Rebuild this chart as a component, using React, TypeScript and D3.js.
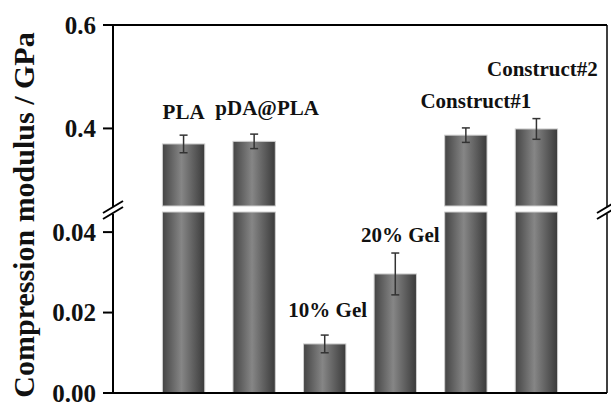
import React from "react";
import * as d3 from "d3";

const categories = ["PLA", "pDA@PLA", "10% Gel", "20% Gel", "Construct#1", "Construct#2"];
const values = [0.37, 0.375, 0.0122, 0.0296, 0.387, 0.399];
const errors = [0.017, 0.014, 0.0022, 0.0052, 0.014, 0.02];
const upperTicks = [0.4, 0.6];
const lowerTicks = [0.0, 0.02, 0.04];
const upperTickLabels = ["0.4", "0.6"];
const lowerTickLabels = ["0.00", "0.02", "0.04"];
// label placement offsets (px) relative to bar centre / error-bar top
const labelDx = [0, 13, 3, 5, 10, 6];
const labelDy = [16, 19, 18, 11, 20, 43];

const W = 611;
const H = 403;
const left = 113;
const right = 607;
const top = 25;
const bottom = 393;
const upBreak = 206;
const lowBreak = 212;

export default function App() {
  const x = d3.scaleLinear().domain([0, 7]).range([left, right]);
  const yU = d3.scaleLinear().domain([0.25, 0.6]).range([upBreak, top]);
  const yL = d3.scaleLinear().domain([0, 0.045]).range([bottom, lowBreak]);
  const bw = x(0.6) - x(0);
  const font = "'Liberation Serif', 'Times New Roman', serif";

  const yOf = (v: number) => (v > 0.045 ? yU(v) : yL(v));

  return (
    <svg width={W} height={H} style={{ position: "fixed", left: 0, top: 0, background: "#fff" }}>
      <defs>
        <linearGradient id="barGrad" x1="0" x2="1" y1="0" y2="0">
          <stop offset="0%" stopColor="#444" />
          <stop offset="45%" stopColor="#868686" />
          <stop offset="100%" stopColor="#3a3a3a" />
        </linearGradient>
      </defs>

      {categories.map((c, i) => {
        const cx = x(i + 1);
        const v = values[i];
        const big = v > 0.045;
        const e = errors[i];
        const eTop = yOf(v + e);
        const eBot = yOf(v - e);
        return (
          <g key={c}>
            {big ? (
              <>
                <rect x={cx - bw / 2} y={yL(0.045)} width={bw} height={yL(0) - yL(0.045)} fill="url(#barGrad)" stroke="#cfcfcf" strokeWidth={1} />
                <rect x={cx - bw / 2} y={yU(v)} width={bw} height={yU(0.25) - yU(v)} fill="url(#barGrad)" stroke="#cfcfcf" strokeWidth={1} />
              </>
            ) : (
              <rect x={cx - bw / 2} y={yL(v)} width={bw} height={yL(0) - yL(v)} fill="url(#barGrad)" stroke="#cfcfcf" strokeWidth={1} />
            )}
            <g stroke="#333" strokeWidth={1.5}>
              <line x1={cx} x2={cx} y1={eTop} y2={eBot} />
              <line x1={cx - 4} x2={cx + 4} y1={eTop} y2={eTop} />
              <line x1={cx - 4} x2={cx + 4} y1={eBot} y2={eBot} />
            </g>
            <text
              x={cx + labelDx[i]}
              y={eTop - labelDy[i]}
              textAnchor="middle"
              fontFamily={font}
              fontWeight="bold"
              fontSize={21}
              fill="#111"
            >
              {c}
            </text>
          </g>
        );
      })}

      {/* axes */}
      <g stroke="#000" fill="none">
        <line x1={left} x2={right} y1={top} y2={top} strokeWidth={2} />
        <line x1={left} x2={left} y1={top} y2={upBreak + 1} strokeWidth={2} />
        <line x1={left} x2={left} y1={lowBreak + 2} y2={bottom} strokeWidth={2} />
        <line x1={right} x2={right} y1={top} y2={upBreak + 1} strokeWidth={1.5} />
        <line x1={right} x2={right} y1={lowBreak + 2} y2={bottom} strokeWidth={1.5} />
        <line x1={left} x2={right} y1={bottom} y2={bottom} strokeWidth={2} />
        {[left, right].map((ax) => (
          <g key={ax} strokeWidth={2}>
            <line x1={ax - 10} x2={ax + 10} y1={upBreak + 7} y2={upBreak - 5} />
            <line x1={ax - 10} x2={ax + 10} y1={lowBreak + 7} y2={lowBreak - 5} />
          </g>
        ))}
        {upperTicks.map((t) => (
          <line key={"u" + t} x1={left - 10} x2={left} y1={yU(t)} y2={yU(t)} strokeWidth={2} />
        ))}
        {lowerTicks.map((t) => (
          <line key={"l" + t} x1={left - 10} x2={left} y1={yL(t)} y2={yL(t)} strokeWidth={2} />
        ))}
      </g>
      <g fontFamily={font} fontWeight="bold" fontSize={25} fill="#111" textAnchor="end">
        {upperTicks.map((t, i) => (
          <text key={"ut" + t} x={96} y={yU(t) + 8.5}>
            {upperTickLabels[i]}
          </text>
        ))}
        {lowerTicks.map((t, i) => (
          <text key={"lt" + t} x={96} y={yL(t) + 8.5}>
            {lowerTickLabels[i]}
          </text>
        ))}
      </g>
      <text
        transform={`translate(34, 215) rotate(-90)`}
        textAnchor="middle"
        fontFamily={font}
        fontWeight="bold"
        fontSize={30}
        fill="#111"
      >
        Compression modulus / GPa
      </text>
    </svg>
  );
}
